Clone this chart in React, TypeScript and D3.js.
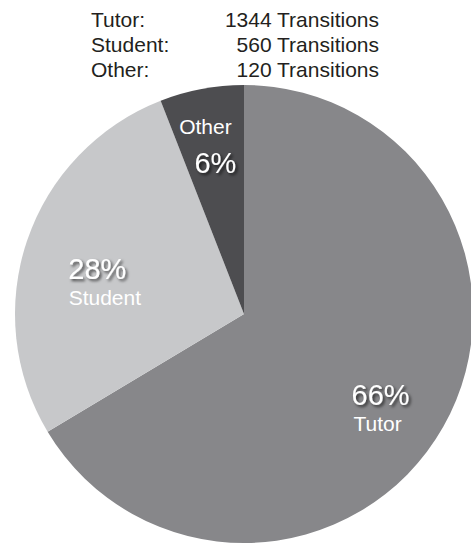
import React from "react";
import * as d3 from "d3";

const categories = ["Tutor", "Student", "Other"];
const transitions = [1344, 560, 120];
const colors = ["#87878a", "#c7c8ca", "#4d4d50"];

const W = 471;
const H = 546;
const CX = 244;
const CY = 314;
const R = 229;
const LABEL_R = 165;
// per-slice label nudges [pctDx, pctDy, nameDx, nameDy]
const nudges: Record<string, number[]> = {
  Tutor: [-7, 10, -10, 36],
  Student: [9.5, 18, 17, 44],
  Other: [2, 21, -8, -18],
};

export default function App() {
  const total = d3.sum(transitions);
  const data = categories.map((c, i) => ({ name: c, value: transitions[i], color: colors[i] }));
  const pie = d3.pie<any>().sort(null).value((d) => d.value);
  const arcs = pie(data);
  const arcGen = d3.arc<any>().innerRadius(0).outerRadius(R);
  const labelArc = d3.arc<any>().innerRadius(LABEL_R).outerRadius(LABEL_R);
  const font = "'Liberation Sans', Arial, Helvetica, sans-serif";
  const headerY = d3.scalePoint<string>().domain(categories).range([27, 77]);

  return (
    <svg width={W} height={H} style={{ position: "absolute", left: 0, top: 0, background: "#fff" }}>
      <defs>
        <filter id="shadow" x="-20%" y="-20%" width="140%" height="160%">
          <feDropShadow dx="2" dy="2" stdDeviation="1.6" floodColor="#000" floodOpacity="0.65" />
        </filter>
      </defs>
      {categories.map((c, i) => (
        <g key={c} fontFamily={font} fontSize={21} fill="#231f20">
          <text x={91} y={headerY(c)}>{c}:</text>
          <text x={379} y={headerY(c)} textAnchor="end">{transitions[i]} Transitions</text>
        </g>
      ))}
      <g transform={`translate(${CX},${CY})`}>
        {arcs.map((a) => (
          <path key={a.data.name} d={arcGen(a) as string} fill={a.data.color} />
        ))}
        {arcs.map((a) => {
          const [x, y] = labelArc.centroid(a);
          const n = nudges[a.data.name];
          const pct = Math.round((a.data.value / total) * 100) + "%";
          return (
            <g key={a.data.name + "l"} fontFamily={font} fill="#fff" textAnchor="middle">
              <text x={x + n[0]} y={y + n[1]} fontSize={29} filter="url(#shadow)">{pct}</text>
              <text x={x + n[2]} y={y + n[3]} fontSize={21}>{a.data.name}</text>
            </g>
          );
        })}
      </g>
    </svg>
  );
}
